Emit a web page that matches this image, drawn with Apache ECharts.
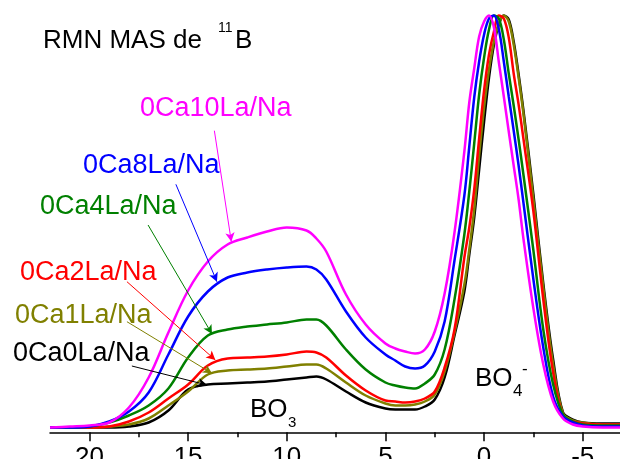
<!DOCTYPE html>
<html><head><meta charset="utf-8">
<script src="https://cdn.jsdelivr.net/npm/echarts@6/dist/echarts.min.js"></script>
<style>html,body{margin:0;padding:0;background:#fff}#c{width:620px;height:459px}</style>
</head><body><div id="c"></div>
<script>
// chemical shift (ppm) sampling points
const ppm = [22,21,20,19,18,17,16,15,14,13,12,11,10,9,8.5,8,7,6,5,4.5,4,3.5,3,2.5,2,1.5,1,0.75,0.5,0.25,0,-0.25,-0.5,-0.75,-1,-1.25,-1.5,-1.75,-2,-2.5,-3,-3.5,-4,-4.5,-5,-6,-7];
// intensities (a.u.)
const i0Ca0La  = [0,0,0,0,1,5,17,38,43,44,45,46,48,50,51,48,36,25,19,18,18,18,21,28,50,92,136,173,210,258,306,350,383,403,412,408,386,353,316,233,144,68,15,8,5,4,4];
const i0Ca1La  = [0,0,0,1,3,9,22,36,53,57,58,59,61,63,63,59,45,32,24,22,22,23,26,33,56,95,143,178,218,272,320,358,386,404,412,406,383,350,313,228,140,63,14,7,5,3,3];
const i0Ca2La  = [0,0,0,1,6,15,29,43,62,69,70,71,73,76,75,70,52,37,27,26,25,26,29,36,60,98,170,200,238,289,337,373,396,412,409,390,354,323,288,216,128,55,12,6,4,3,3];
const i0Ca4La  = [0,0,1,5,12,22,39,70,92,98,101,103,105,108,108,102,78,58,45,42,40,39,44,53,78,128,193,236,284,333,370,398,412,409,388,354,322,288,252,177,98,43,13,6,3,2,2];
const i0Ca8La  = [0,0,1,6,16,35,73,111,136,150,155,158,160,161,158,148,116,90,73,67,61,59,62,76,106,167,232,281,330,366,393,409,412,398,366,331,297,262,224,148,80,31,11,5,2,1,1];
const i0Ca10La = [0,1,2,5,20,50,95,137,166,183,190,196,200,197,189,176,133,103,84,79,76,74,78,96,134,195,276,325,359,391,406,412,400,365,331,296,262,228,188,119,63,26,9,3,1,0,0];

const seriesNames  = ['0Ca0La/Na','0Ca1La/Na','0Ca2La/Na','0Ca4La/Na','0Ca8La/Na','0Ca10La/Na'];
const seriesValues = [i0Ca0La, i0Ca1La, i0Ca2La, i0Ca4La, i0Ca8La, i0Ca10La];
const seriesColors = ['#000000','#808000','#ff0000','#008000','#0000ff','#ff00ff'];

// annotation arrows: [start ppm, start intensity] -> [end ppm, end intensity]
const arrowStart = [[17.85,61.5],[18.10,105.8],[18.10,145.8],[17.03,202.5],[15.62,243.2],[13.67,296.8]];
const arrowEnd   = [[14.04,42.5],[13.79,54.2],[13.62,67.5],[13.79,93.5],[13.54,145.8],[12.81,185.8]];

const majorTicks = [20,15,10,5,0,-5];
const minorTicks = [17.5,12.5,7.5,2.5,-2.5];

const FONT = '"Liberation Sans", Arial, sans-serif';

// label positions (px) for the series names
const labelPos = [[13,354],[15,315.5],[20,273],[40,207],[83,166],[140,109]];

function txt(x, y, text, size, color) {
  return {type:'text', x:x, y:y, silent:true,
    style:{text:text, fill:color, font: size + 'px ' + FONT, align:'left', verticalAlign:'middle',
           textAlign:'left', textVerticalAlign:'middle'}};
}

const chart = echarts.init(document.getElementById('c'), null, {renderer:'canvas'});

const series = seriesNames.map((name, k) => ({
  name: name,
  type: 'line',
  xAxisIndex: 0,
  data: ppm.map((p, i) => [p, seriesValues[k][i]]),
  showSymbol: false,
  smooth: 0.35,
  clip: false,
  lineStyle: {color: seriesColors[k], width: 2.5},
  itemStyle: {color: seriesColors[k]},
  markLine: {
    silent: true,
    symbol: ['none','arrow'],
    symbolSize: [7, 9],
    label: {show:false},
    lineStyle: {color: seriesColors[k], width: 1, type: 'solid'},
    data: [[{coord: arrowStart[k]}, {coord: arrowEnd[k]}]]
  }
}));

const graphics = [
  txt(43, 41, 'RMN MAS de', 26, '#000'),
  txt(218, 28, '11', 14, '#000'),
  txt(235, 41, 'B', 26, '#000'),
  txt(250, 410, 'BO', 26, '#000'),
  txt(288, 423, '3', 15, '#000'),
  txt(475, 379, 'BO', 26, '#000'),
  txt(513, 391, '4', 17, '#000'),
  txt(522, 369, '-', 17, '#000')
];
seriesNames.forEach((n, k) => graphics.push(txt(labelPos[k][0], labelPos[k][1], n, 27, seriesColors[k])));

chart.setOption({
  animation: false,
  backgroundColor: '#fff',
  grid: {left: 50, right: -2.2, top: 5, bottom: 26.7, containLabel: false, outerBoundsMode: 'none'},
  xAxis: [{
    type: 'value', inverse: true, min: -7, max: 22, position: 'bottom',
    splitLine: {show:false},
    axisLine: {show:true, onZero:false, lineStyle:{color:'#000', width:1.5}},
    axisTick: {show:true, inside:false, length:9, customValues: majorTicks, lineStyle:{color:'#000', width:1.5}},
    axisLabel: {show:true, customValues: majorTicks, margin: 13, color:'#000', fontSize: 26, fontFamily: FONT},
  },{
    type: 'value', inverse: true, min: -7, max: 22, position: 'bottom', offset: 0,
    splitLine: {show:false},
    axisLine: {show:false, onZero:false},
    axisTick: {show:true, inside:false, length:5, customValues: minorTicks, lineStyle:{color:'#000', width:1.5}},
    axisLabel: {show:false}
  }],
  yAxis: {type:'value', show:false, min:-4.8, max:422.5, splitLine:{show:false}},
  series: series,
  graphic: graphics
});
</script>
</body></html>
